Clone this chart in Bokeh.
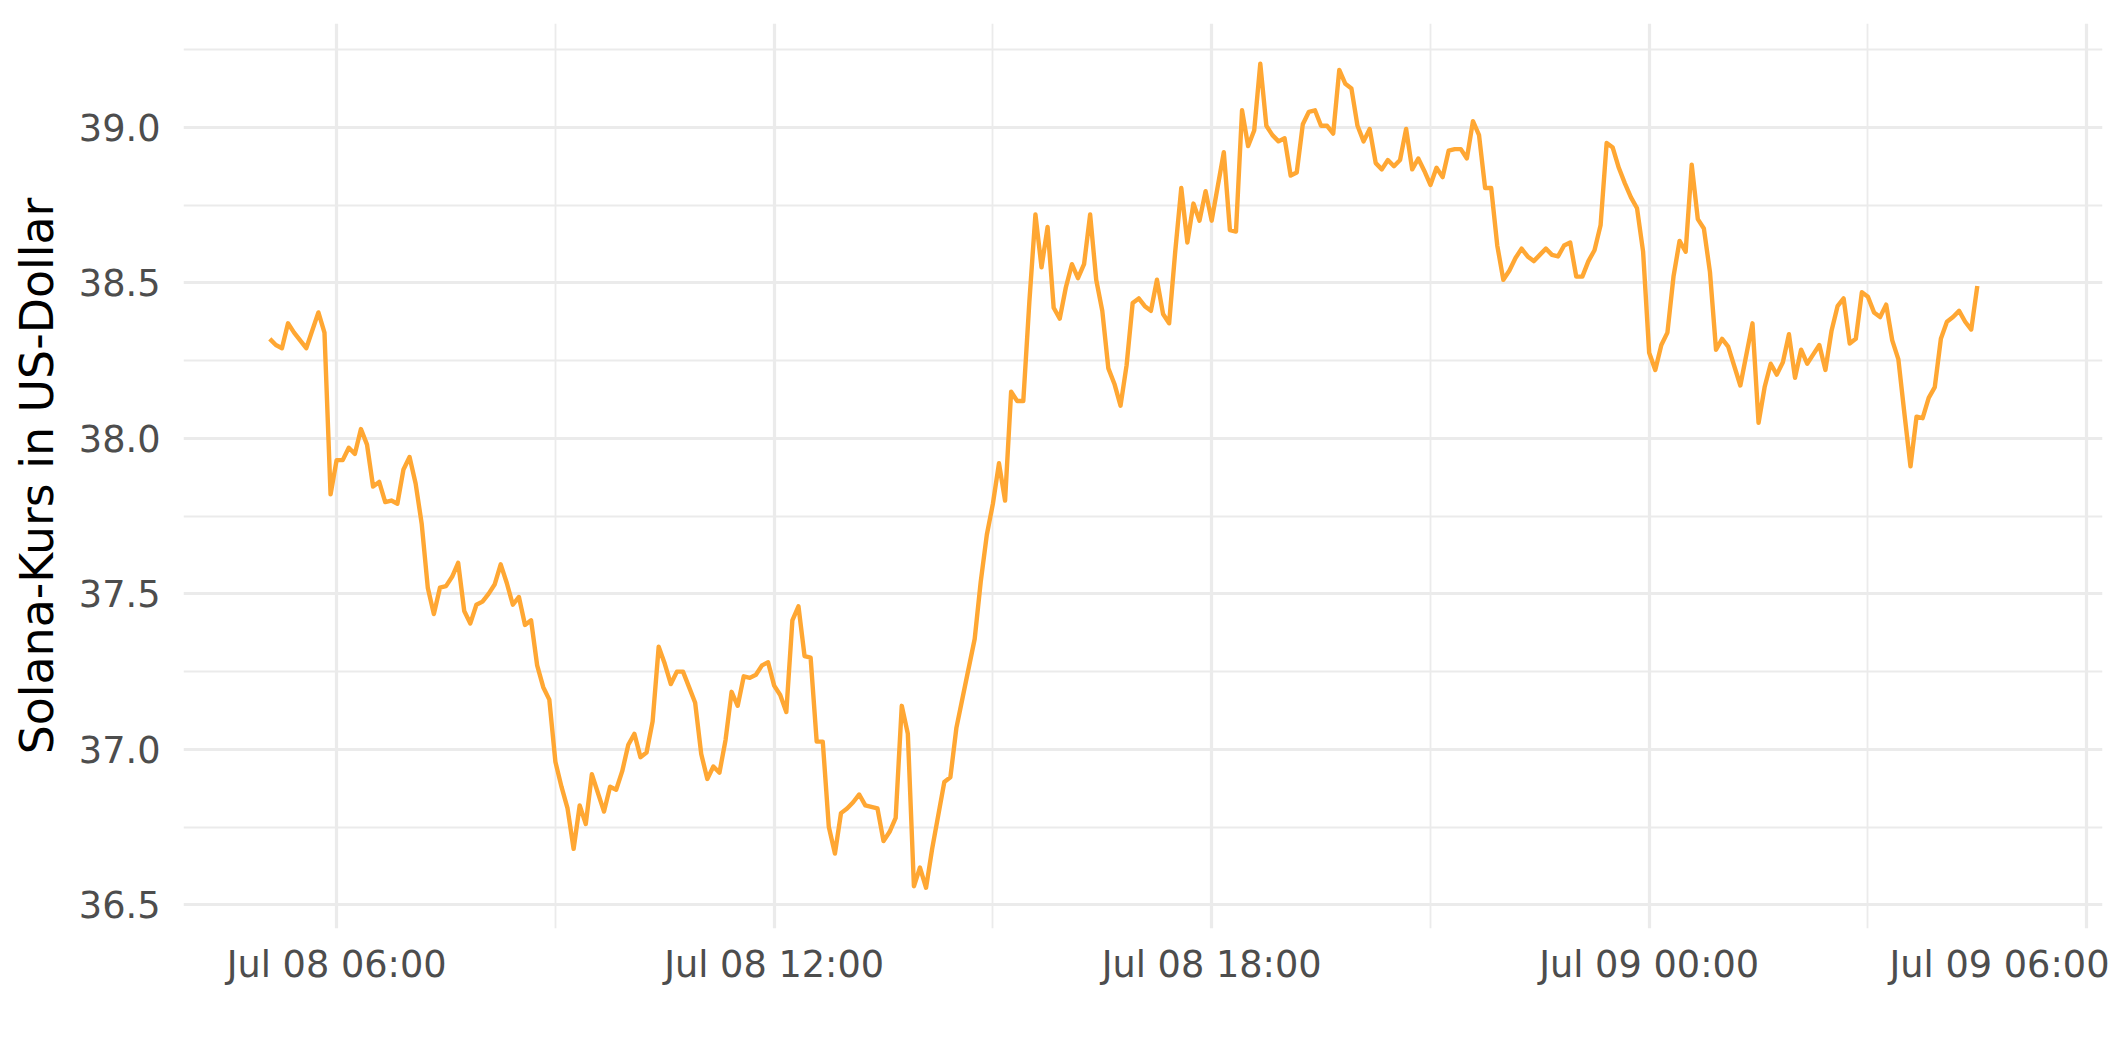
import pandas as pd
from bokeh.plotting import figure
from bokeh.models import Range1d, FixedTicker, DatetimeTickFormatter, NumeralTickFormatter
from bokeh.embed import file_html
from bokeh.resources import INLINE

# ---- data (Solana price, 5-minute readings) ----
times_jul08 = [
    "05:05", "05:10", "05:15", "05:20", "05:25", "05:35", "05:45", "05:50", "05:55",
    "06:00", "06:05", "06:10", "06:15", "06:20", "06:25", "06:30", "06:35", "06:40", "06:45", "06:50", "06:55",
    "07:00", "07:05", "07:10", "07:15", "07:20", "07:25", "07:30", "07:35", "07:40", "07:45", "07:50", "07:55",
    "08:00", "08:05", "08:10", "08:15", "08:20", "08:25", "08:30", "08:35", "08:40", "08:45", "08:50", "08:55",
    "09:00", "09:05", "09:10", "09:15", "09:20", "09:25", "09:30", "09:40", "09:45", "09:50", "09:55",
    "10:00", "10:05", "10:10", "10:15", "10:20", "10:25", "10:30", "10:35", "10:40", "10:45", "10:50", "10:55",
    "11:00", "11:05", "11:10", "11:15", "11:20", "11:25", "11:30", "11:35", "11:40", "11:45", "11:50", "11:55",
    "12:00", "12:05", "12:10", "12:15", "12:20", "12:25", "12:30", "12:35", "12:40", "12:45", "12:50", "12:55",
    "13:00", "13:05", "13:10", "13:15", "13:25", "13:30", "13:35", "13:40", "13:45", "13:50", "13:55",
    "14:00", "14:05", "14:10", "14:20", "14:25", "14:30", "14:35", "14:45", "14:50", "14:55",
    "15:00", "15:05", "15:10", "15:15", "15:20", "15:25", "15:30", "15:35", "15:40", "15:45", "15:50", "15:55",
    "16:00", "16:05", "16:10", "16:15", "16:20", "16:25", "16:30", "16:35", "16:40", "16:45", "16:50", "16:55",
    "17:00", "17:05", "17:10", "17:15", "17:20", "17:25", "17:30", "17:35", "17:40", "17:45", "17:50", "17:55",
    "18:00", "18:05", "18:10", "18:15", "18:20", "18:25", "18:30", "18:35", "18:40", "18:45", "18:50", "18:55",
    "19:00", "19:05", "19:10", "19:15", "19:20", "19:25", "19:30", "19:35", "19:40", "19:45", "19:50", "19:55",
    "20:00", "20:05", "20:10", "20:15", "20:20", "20:25", "20:30", "20:35", "20:40", "20:45", "20:50", "20:55",
    "21:00", "21:05", "21:10", "21:15", "21:20", "21:25", "21:30", "21:35", "21:40", "21:45", "21:50", "21:55",
    "22:00", "22:05", "22:10", "22:15", "22:20", "22:25", "22:30", "22:35", "22:40", "22:45", "22:50", "22:55",
    "23:00", "23:05", "23:10", "23:15", "23:20", "23:25", "23:30", "23:35", "23:40", "23:45", "23:50", "23:55",
]
price_jul08 = [
    38.32, 38.30, 38.29, 38.37, 38.34, 38.29, 38.405, 38.34, 37.82,
    37.93, 37.93, 37.97, 37.95, 38.03, 37.98, 37.845, 37.86, 37.795, 37.80, 37.79, 37.90,
    37.94, 37.855, 37.725, 37.52, 37.435, 37.52, 37.525, 37.555, 37.60, 37.445, 37.405, 37.465,
    37.475, 37.50, 37.53, 37.595, 37.535, 37.465, 37.49, 37.40, 37.415, 37.27, 37.20, 37.16,
    36.96, 36.88, 36.81, 36.68, 36.82, 36.76, 36.92, 36.80, 36.88, 36.87, 36.93,
    37.015, 37.05, 36.975, 36.99, 37.09, 37.33, 37.275, 37.21, 37.25, 37.25, 37.20, 37.15,
    36.985, 36.905, 36.945, 36.925, 37.03, 37.185, 37.14, 37.235, 37.23, 37.24, 37.27, 37.28,
    37.205, 37.175, 37.12, 37.415, 37.46, 37.30, 37.295, 37.025, 37.025, 36.75, 36.665, 36.795,
    36.81, 36.83, 36.855, 36.82, 36.81, 36.705, 36.735, 36.78, 37.14, 37.05, 36.56,
    36.62, 36.555, 36.68, 36.895, 36.91, 37.07, 37.165, 37.355, 37.54, 37.69,
    37.79, 37.92, 37.80, 38.15, 38.12, 38.12, 38.44, 38.72, 38.55, 38.68, 38.42, 38.385,
    38.485, 38.56, 38.515, 38.56, 38.72, 38.51, 38.41, 38.225, 38.175, 38.105, 38.235, 38.435,
    38.45, 38.425, 38.41, 38.51, 38.40, 38.37, 38.60, 38.805, 38.63, 38.755, 38.70, 38.795,
    38.70, 38.81, 38.92, 38.67, 38.665, 39.055, 38.94, 38.99, 39.205, 39.005, 38.975, 38.955,
    38.965, 38.845, 38.855, 39.01, 39.05, 39.055, 39.005, 39.005, 38.98, 39.185, 39.14, 39.125,
    39.005, 38.955, 38.995, 38.885, 38.865, 38.895, 38.875, 38.895, 38.995, 38.865, 38.90, 38.86,
    38.815, 38.87, 38.84, 38.925, 38.93, 38.93, 38.90, 39.02, 38.975, 38.805, 38.805, 38.62,
    38.51, 38.54, 38.58, 38.61, 38.585, 38.57, 38.59, 38.61, 38.59, 38.585, 38.62, 38.63,
    38.52, 38.52, 38.57, 38.605, 38.685, 38.95, 38.935, 38.87, 38.82, 38.775, 38.74, 38.60,
]
times_jul09 = [
    "00:00", "00:05", "00:10", "00:15", "00:20", "00:25", "00:30", "00:35", "00:40", "00:45", "00:50", "00:55",
    "01:00", "01:05", "01:15", "01:25", "01:30", "01:35", "01:40", "01:45", "01:50", "01:55",
    "02:00", "02:05", "02:10", "02:15", "02:20", "02:25", "02:30", "02:35", "02:40", "02:45", "02:50", "02:55",
    "03:00", "03:05", "03:10", "03:15", "03:20", "03:25", "03:30", "03:35", "03:40", "03:45", "03:50", "03:55",
    "04:00", "04:05", "04:10", "04:15", "04:20", "04:25", "04:30",
]
price_jul09 = [
    38.275, 38.22, 38.30, 38.34, 38.52, 38.635, 38.60, 38.88, 38.705, 38.675, 38.535, 38.285,
    38.32, 38.295, 38.17, 38.37, 38.05, 38.165, 38.24, 38.205, 38.245, 38.335,
    38.195, 38.285, 38.24, 38.27, 38.30, 38.22, 38.345, 38.425, 38.45, 38.305, 38.32, 38.47,
    38.455, 38.405, 38.39, 38.43, 38.315, 38.255, 38.08, 37.91, 38.07, 38.065, 38.13, 38.165,
    38.32, 38.375, 38.39, 38.41, 38.375, 38.35, 38.49,
]

y_major = [36.5, 37.0, 37.5, 38.0, 38.5, 39.0]
y_minor = [36.75, 37.25, 37.75, 38.25, 38.75, 39.25]
x_major = ["2021-07-08 06:00", "2021-07-08 12:00", "2021-07-08 18:00", "2021-07-09 00:00", "2021-07-09 06:00"]
x_minor = ["2021-07-08 09:00", "2021-07-08 15:00", "2021-07-08 21:00", "2021-07-09 03:00"]
x_limits = ["2021-07-08 03:54", "2021-07-09 06:13"]
y_limits = [36.424, 39.334]

# ---- build ----
t = pd.to_datetime(["2021-07-08 " + s for s in times_jul08] + ["2021-07-09 " + s for s in times_jul09])
price = price_jul08 + price_jul09

def ms(s):
    return pd.Timestamp(s).value // 10**6

p = figure(
    width=2109, height=1046, x_axis_type="datetime",
    output_backend="svg", toolbar_location=None,
    x_range=Range1d(ms(x_limits[0]), ms(x_limits[1])),
    y_range=Range1d(y_limits[0], y_limits[1]),
    min_border_left=183, min_border_right=7, min_border_top=23, min_border_bottom=118,
)
p.outline_line_color = None
p.background_fill_color = "white"
p.border_fill_color = "white"

p.line(t, price, line_color="#FFA733", line_width=4.4, line_join="round")

xt = FixedTicker(ticks=[ms(s) for s in x_major], minor_ticks=[ms(s) for s in x_minor])
yt = FixedTicker(ticks=y_major, minor_ticks=y_minor)
p.xaxis.ticker = xt
p.xgrid.ticker = xt
p.yaxis.ticker = yt
p.ygrid.ticker = yt

fmt = "%b %d %H:%M"
p.xaxis.formatter = DatetimeTickFormatter(
    minutes=fmt, hourmin=fmt, hours=fmt, days=fmt, months=fmt, years=fmt, minsec=fmt, seconds=fmt
)
p.yaxis.formatter = NumeralTickFormatter(format="0.0")

for g in (p.xgrid, p.ygrid):
    g.grid_line_color = "#EBEBEB"
    g.grid_line_width = 3.2
    g.minor_grid_line_color = "#EBEBEB"
    g.minor_grid_line_width = 1.8

for ax in (p.xaxis, p.yaxis):
    ax.axis_line_color = None
    ax.major_tick_line_color = None
    ax.minor_tick_line_color = None
    ax.major_tick_out = 0
    ax.minor_tick_out = 0
    ax.major_label_text_font = "DejaVu Sans"
    ax.major_label_text_font_size = "36.7px"
    ax.major_label_text_color = "#4D4D4D"

p.xaxis.major_label_standoff = 14
p.yaxis.major_label_standoff = 23
p.yaxis.axis_label = "Solana-Kurs in US-Dollar"
p.yaxis.axis_label_text_font = "DejaVu Sans"
p.yaxis.axis_label_text_font_size = "45.8px"
p.yaxis.axis_label_text_font_style = "normal"
p.yaxis.axis_label_text_color = "black"
p.yaxis.axis_label_standoff = 12

open("out.html", "w").write(file_html(p, INLINE))
